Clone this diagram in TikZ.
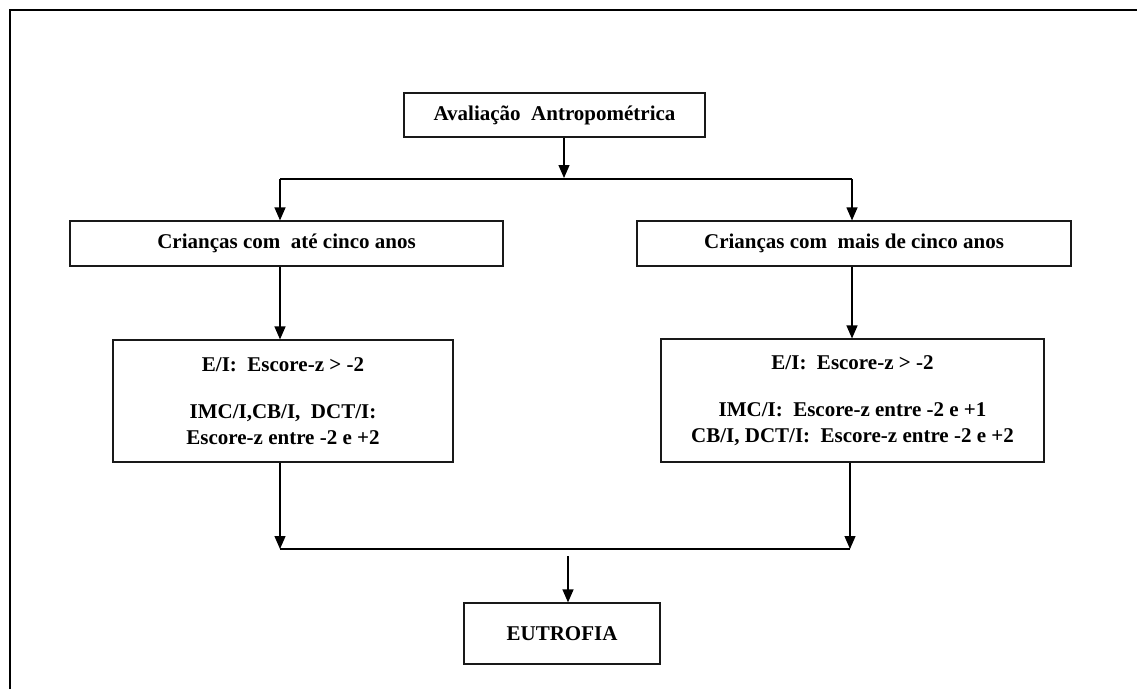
\documentclass[tikz,border=0pt]{standalone}
\usepackage{fontspec}
\setmainfont{Liberation Serif}
\usetikzlibrary{arrows.meta}
\tikzset{
  box/.style={draw=black!90, line width=1.2pt, rectangle, inner sep=0pt, align=center,
    font=\fontsize{21}{26}\selectfont\bfseries},
  arr/.style={line width=1.2pt, -{Triangle[length=13pt,width=11pt]}},
  conn/.style={line width=1.2pt},
  frame/.style={line width=2.2pt}
}
\begin{document}
\begin{tikzpicture}[x=1pt,y=-1pt]
\useasboundingbox (0,0) rectangle (1137,689);
\draw[frame] (10,689) -- (10,10) -- (1137,10);

\node[box, minimum width=301pt, minimum height=44pt] (top) at (554.5,115) {Avaliação\ \ Antropométrica};
\node[box, minimum width=433pt, minimum height=45pt] (left) at (286.5,243.5) {Crianças com\ \ até cinco anos};
\node[box, minimum width=434pt, minimum height=45pt] (right) at (854,243.5) {Crianças com\ \ mais de cinco anos};
\node[box, minimum width=340pt, minimum height=122pt] (ll) at (283,401)
  {E/I:\ \ Escore-z > -2\\[21pt] IMC/I,CB/I,\ \ DCT/I:\\ Escore-z entre -2 e +2};
\node[box, minimum width=383pt, minimum height=123pt] (rl) at (852.5,400.5)
  {E/I:\ \ Escore-z > -2\\[21pt] IMC/I:\ \ Escore-z entre -2 e +1\\ CB/I, DCT/I:\ \ Escore-z entre -2 e +2};
\node[box, minimum width=196pt, minimum height=61pt] (eut) at (562,633.5) {EUTROFIA};

\coordinate (j1) at (564,178);
\coordinate (jl) at (280,179);
\coordinate (jr) at (852,179);
\coordinate (bl) at (280,549);
\coordinate (br) at (850,549);
\coordinate (be) at (568,556);

\draw[arr] (top.south -| j1) -- (j1);
\draw[conn] (jl) -- (jr);
\draw[arr] (jl) -- (jl |- left.north);
\draw[arr] (jr) -- (jr |- right.north);
\draw[arr] (left.south -| jl) -- (ll.north -| jl);
\draw[arr] (right.south -| jr) -- (rl.north -| jr);
\draw[arr] (ll.south -| bl) -- (bl);
\draw[arr] (rl.south -| br) -- (br);
\draw[conn] (bl) -- (br);
\draw[arr] (be) -- (eut.north -| be);
\end{tikzpicture}
\end{document}
